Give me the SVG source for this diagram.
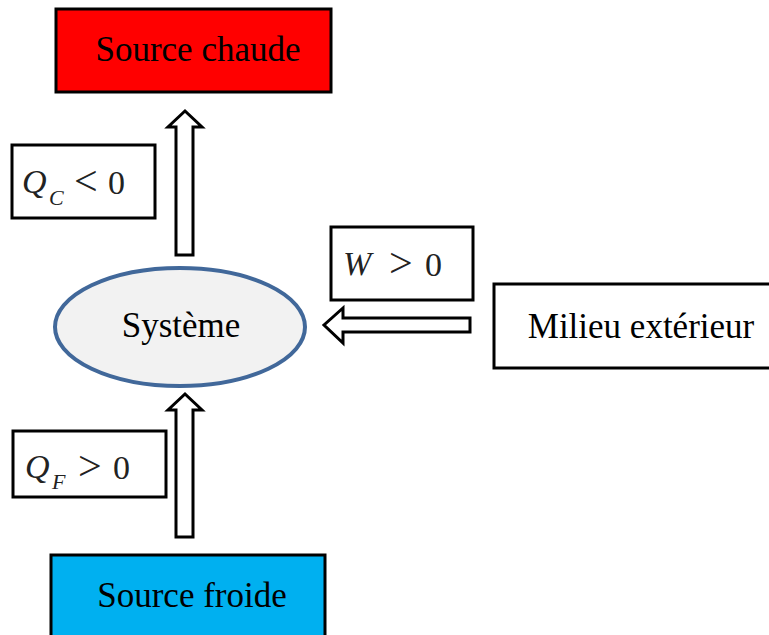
<svg xmlns="http://www.w3.org/2000/svg" width="769" height="635" viewBox="0 0 769 635">
<style>
.box{stroke:#000;stroke-width:3;}
.t{font-family:"Liberation Serif","Times New Roman",serif;font-size:35px;fill:#000;}
.m{font-family:"Liberation Serif","Times New Roman",serif;font-size:34px;fill:#222;}
.i{font-style:italic;}
.s{font-style:italic;font-size:22px;}
.op{font-size:42px;}
.arr{fill:#fff;stroke:#000;stroke-width:3;stroke-linejoin:miter;}
</style>
<rect width="769" height="635" fill="#fff"/>
<g id="source-chaude">
<rect class="box" x="56" y="9" width="275" height="83" fill="#FF0000"/>
<text class="t" x="198" y="61" text-anchor="middle">Source chaude</text>
</g>
<g id="systeme">
<ellipse cx="180" cy="327" rx="125" ry="59" fill="#F2F2F2" stroke="#41689A" stroke-width="4"/>
<text class="t" x="181" y="337" text-anchor="middle">Système</text>
</g>
<g id="milieu">
<rect class="box" x="494" y="284" width="285" height="84" fill="#fff"/>
<text class="t" x="641" y="338" text-anchor="middle">Milieu extérieur</text>
</g>
<g id="source-froide">
<rect class="box" x="51" y="555" width="274" height="90" fill="#00B0F0"/>
<text class="t" x="192" y="607" text-anchor="middle">Source froide</text>
</g>
<g id="label-qc">
<rect class="box" x="12" y="145" width="143" height="73" fill="#fff"/>
<text class="m i" x="22" y="193">Q</text>
<text class="m s" x="49" y="205">C</text>
<text class="m op" x="74" y="195">&lt;</text>
<text class="m" x="108" y="194">0</text>
</g>
<g id="label-w">
<rect class="box" x="331" y="227" width="142" height="73" fill="#fff"/>
<text class="m i" x="343" y="275">W</text>
<text class="m op" x="389" y="277">&gt;</text>
<text class="m" x="425" y="276">0</text>
</g>
<g id="label-qf">
<rect class="box" x="13" y="431" width="153" height="66" fill="#fff"/>
<text class="m i" x="25" y="478">Q</text>
<text class="m s" x="52" y="489">F</text>
<text class="m op" x="78" y="480">&gt;</text>
<text class="m" x="113" y="479">0</text>
</g>
<g id="connectors">
<polygon class="arr" points="176,255 176,127 168,127 185,111 202,127 193,127 193,255"/>
<polygon class="arr" points="176,537 176,410 168,410 185,394 202,410 193,410 193,537"/>
<polygon class="arr" points="470,318 343,318 343,308 324,325 343,343 343,332 470,332"/>
</g>
</svg>
